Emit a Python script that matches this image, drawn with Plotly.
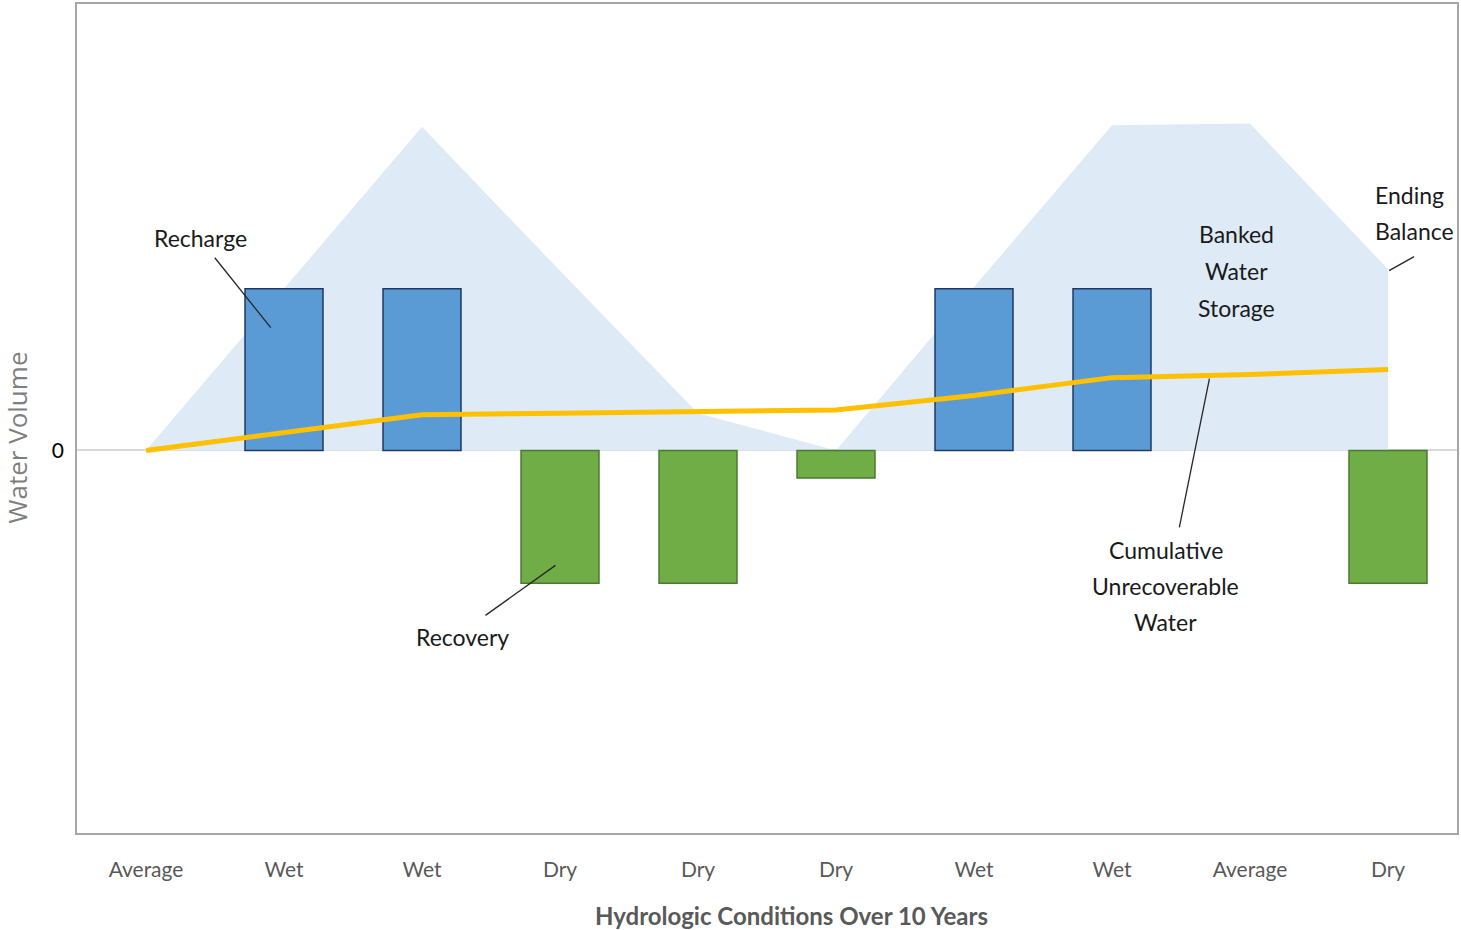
import plotly.graph_objects as go

# Ten hydrologic years and their classification
year_index = list(range(10))
conditions = ["Average", "Wet", "Wet", "Dry", "Dry", "Dry", "Wet", "Wet", "Average", "Dry"]

# Annual flows (relative volume units)
recharge = [None, 100, 100, None, None, None, 100, 100, None, None]
recovery = [None, None, None, -82, -82, -17, None, None, None, -82]

# Running balances
banked_storage = [0, 100, 200, 111, 23, 0, 101, 201, 202, 112]
unrecoverable = [0, 11, 22, 23, 24, 25, 34, 45, 47, 50]

Y_RANGE = [-236.4, 275.9]
X_RANGE = [-0.5, 9.5]

FONT = "Lato, 'Open Sans', sans-serif"

fig = go.Figure()

# Banked storage area sits on the base axes so the bars draw over it
fig.add_trace(go.Scatter(
    x=year_index, y=banked_storage, mode="lines", fill="tozeroy",
    fillcolor="#DEEAF6", line=dict(width=0, color="#DEEAF6"),
    name="Banked Water Storage", xaxis="x", yaxis="y", hoverinfo="skip",
))

fig.add_trace(go.Bar(
    x=year_index, y=recharge, name="Recharge",
    marker=dict(color="#5B9BD5", line=dict(color="#203864", width=1.5)),
    xaxis="x2", yaxis="y2",
))
fig.add_trace(go.Bar(
    x=year_index, y=recovery, name="Recovery",
    marker=dict(color="#70AD47", line=dict(color="#4A7A30", width=1.5)),
    xaxis="x2", yaxis="y2",
))
fig.add_trace(go.Scatter(
    x=year_index, y=unrecoverable, mode="lines", name="Cumulative Unrecoverable Water",
    line=dict(color="#FFC000", width=5),
    xaxis="x2", yaxis="y2",
))

# Callout labels (one annotation per text line) and their leader lines
labels = [
    ("Recharge", 0.397, 131.5, "center"),
    ("Recovery", 2.293, -115.4, "center"),
    ("Banked", 7.901, 133.6, "center"),
    ("Water", 7.901, 111.1, "center"),
    ("Storage", 7.901, 88.3, "center"),
    ("Ending", 8.892, 157.8, "left"),
    ("Balance", 8.892, 135.6, "left"),
    ("Cumulative", 7.388, -61.7, "center"),
    ("Unrecoverable", 7.388, -84.0, "center"),
    ("Water", 7.388, -106.2, "center"),
]
leaders = [
    (0.4986, 119.1, 0.904, 75.9),
    (2.460, -101.9, 2.967, -71.0),
    (9.008, 111.1, 9.189, 119.8),
    (7.706, 44.4, 7.488, -47.5),
]

annotations = []
for text, x, y, anchor in labels:
    annotations.append(dict(
        text=text, x=x, y=y, xref="x", yref="y", xanchor=anchor, yanchor="middle",
        showarrow=False, font=dict(family=FONT, size=23, color="#1A1A1A"),
    ))

annotations.append(dict(
    text="Water Volume", x=-0.0435, y=0.477, xref="paper", yref="paper",
    textangle=-90, showarrow=False, xanchor="center", yanchor="middle",
    font=dict(family="'Open Sans', sans-serif", size=26, color="#7F7F7F"),
))
annotations.append(dict(
    text="<b>Hydrologic Conditions Over 10 Years</b>", x=0.518, y=-0.1,
    xref="paper", yref="paper", showarrow=False, xanchor="center", yanchor="middle",
    font=dict(family="'Liberation Sans Narrow', Lato, sans-serif", size=24, color="#595959"),
))

shapes = [
    dict(type="line", xref="x", yref="y", x0=a, y0=b, x1=c, y1=d,
         line=dict(color="#262626", width=1.3), layer="above")
    for a, b, c, d in leaders
]

fig.update_layout(
    width=1461, height=930,
    margin=dict(l=77, r=2, t=3, b=97),
    paper_bgcolor="white", plot_bgcolor="white",
    showlegend=False,
    barmode="relative", bargap=0.435,
    xaxis=dict(
        range=X_RANGE, tickmode="array", tickvals=year_index, ticktext=conditions,
        tickfont=dict(family=FONT, size=21, color="#595959"),
        ticks="outside", ticklen=17, tickcolor="rgba(0,0,0,0)",
        showgrid=False, zeroline=False,
        showline=True, mirror=True, linecolor="#A6A6A6", linewidth=1.5,
    ),
    yaxis=dict(
        range=Y_RANGE, tickmode="array", tickvals=[0], ticktext=["0"],
        tickfont=dict(family=FONT, size=21, color="#000000"),
        ticks="outside", ticklen=7, tickcolor="rgba(0,0,0,0)",
        showgrid=False, zeroline=False,
        showline=True, mirror=True, linecolor="#A6A6A6", linewidth=1.5,
    ),
    xaxis2=dict(range=X_RANGE, overlaying="x", visible=False),
    yaxis2=dict(range=Y_RANGE, overlaying="y", visible=True, showticklabels=False,
                showgrid=False, showline=False, ticks="",
                zeroline=True, zerolinecolor="#D9D9D9", zerolinewidth=2),
    annotations=annotations,
    shapes=shapes,
)

fig.write_html("out.html")
